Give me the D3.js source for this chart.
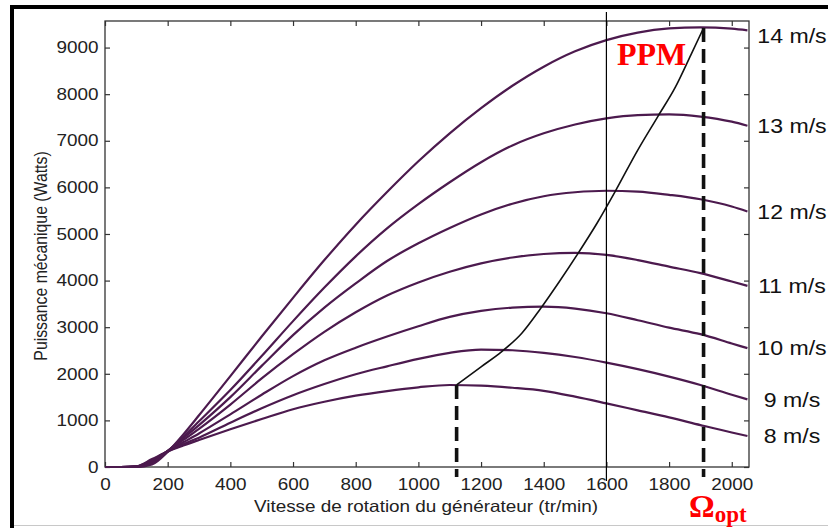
<!DOCTYPE html>
<html>
<head>
<meta charset="utf-8">
<script src="https://cdn.jsdelivr.net/npm/d3@7"></script>
<style>
body { margin: 0; background: #fff; }
svg { display: block; font-family: "Liberation Sans", Arial, sans-serif; }
</style>
</head>
<body>
<div class="chart"></div>
<script>
// vitesse de rotation (tr/min) for the sampled points of each curve
const rpm = [0, 50, 100, 150, 200, 250, 300, 400, 500, 600, 700, 800, 900, 1000,
    1100, 1200, 1300, 1400, 1500, 1600, 1700, 1800, 1900, 2000, 2050];

// puissance mécanique (W), one array per wind speed
const p8  = [0, 0, 15, 170, 330, 460, 580, 810, 1030, 1240, 1400, 1530, 1630, 1710, 1760, 1745, 1700, 1635, 1510, 1365, 1215, 1065, 900, 740, 665];
const p9  = [0, 0, 12, 150, 335, 490, 630, 950, 1260, 1540, 1780, 1990, 2160, 2320, 2450, 2520, 2505, 2450, 2360, 2240, 2100, 1940, 1760, 1550, 1450];
const p10 = [0, 0, 10, 130, 340, 530, 720, 1130, 1550, 1950, 2290, 2560, 2800, 3020, 3220, 3350, 3420, 3440, 3400, 3300, 3150, 2990, 2850, 2650, 2550];
const p11 = [0, 0, 8, 115, 345, 580, 820, 1340, 1900, 2420, 2900, 3320, 3680, 3960, 4190, 4370, 4495, 4570, 4595, 4550, 4440, 4300, 4160, 3980, 3887];
const p12 = [0, 0, 5, 100, 345, 620, 900, 1500, 2170, 2830, 3420, 3940, 4420, 4800, 5130, 5420, 5650, 5810, 5895, 5928, 5910, 5840, 5745, 5590, 5483];
const p13 = [0, 0, 3, 80, 335, 650, 980, 1650, 2380, 3130, 3850, 4520, 5120, 5640, 6110, 6540, 6900, 7160, 7350, 7480, 7550, 7565, 7520, 7410, 7323];
const p14 = [0, 0, 0, 55, 325, 700, 1110, 1950, 2800, 3630, 4440, 5200, 5900, 6560, 7160, 7700, 8180, 8590, 8920, 9160, 9320, 9410, 9435, 9405, 9370];

const speeds = ["8 m/s", "9 m/s", "10 m/s", "11 m/s", "12 m/s", "13 m/s", "14 m/s"];
const powers = [p8, p9, p10, p11, p12, p13, p14];

// PPM (maximum power point) curve
const ppmRpm   = [1122, 1200, 1265, 1330, 1390, 1450, 1510, 1570, 1627, 1700, 1764, 1820, 1870, 1910];
const ppmPower = [1761, 2150, 2470, 2870, 3400, 3980, 4590, 5230, 5900, 6800, 7520, 8150, 8850, 9420];

// dashed markers: [rpm, power]
const dashMarks = [[1122, 1761], [1910, 9420]];
const refRpm = 1600;

const xTicks = [0, 200, 400, 600, 800, 1000, 1200, 1400, 1600, 1800, 2000];
const yTicks = [0, 1000, 2000, 3000, 4000, 5000, 6000, 7000, 8000, 9000];

const margin = ({ top: 21, right: 79, bottom: 61, left: 105 });
const W = 828, H = 528;
const w = W - margin.left - margin.right;
const h = H - margin.top - margin.bottom;
const stretch = 1.16;

var svg = d3.select(".chart").append("svg")
    .attr("width", W)
    .attr("height", H);

// outer frame (cut on the right)
svg.append("line").attr("x1", 10).attr("x2", W).attr("y1", 7).attr("y2", 7)
    .attr("stroke", "#000").attr("stroke-width", 4);
svg.append("line").attr("x1", 12).attr("x2", 12).attr("y1", 5).attr("y2", H)
    .attr("stroke", "#000").attr("stroke-width", 4);
svg.append("line").attr("x1", 14).attr("x2", W).attr("y1", 525.5).attr("y2", 525.5)
    .attr("stroke", "#c8c8c8").attr("stroke-width", 1);

var x = d3.scaleLinear().domain([0, 2055]).range([0, w]);
var y = d3.scaleLinear().domain([0, 9570]).range([h, 0]);

var g = svg.append("g").attr("transform", `translate(${margin.left}, ${margin.top})`);

function styleAxis(sel) {
    sel.select(".domain").remove();
    sel.attr("font-family", null).attr("font-size", null);
    sel.selectAll(".tick line").attr("stroke", "#333").attr("stroke-width", 1.2);
    sel.selectAll("text")
        .attr("font-size", 16.3)
        .attr("fill", "#222")
        .attr("transform", `scale(${stretch},1)`);
}

g.append("g").attr("transform", `translate(0, ${h})`)
    .call(d3.axisBottom(x).tickValues(xTicks).tickFormat(d3.format("d"))
        .tickSizeInner(-5).tickSizeOuter(0).tickPadding(11))
    .call(styleAxis);
g.append("g")
    .call(d3.axisLeft(y).tickValues(yTicks).tickFormat(d3.format("d"))
        .tickSizeInner(-5).tickSizeOuter(0).tickPadding(5.5))
    .call(styleAxis);
g.append("g")
    .call(d3.axisTop(x).tickValues(xTicks).tickSizeInner(-5).tickSizeOuter(0).tickFormat(""))
    .call(styleAxis);
g.append("g").attr("transform", `translate(${w}, 0)`)
    .call(d3.axisRight(y).tickValues(yTicks).tickSizeInner(-5).tickSizeOuter(0).tickFormat(""))
    .call(styleAxis);

g.append("rect")
    .attr("width", w).attr("height", h)
    .attr("fill", "none").attr("stroke", "#333").attr("stroke-width", 1.3);

// power curves
var line = d3.line()
    .x((d, i) => x(rpm[i]))
    .y(d => y(d))
    .curve(d3.curveMonotoneX);

g.selectAll(".curve")
    .data(powers)
    .join("path")
    .attr("class", "curve")
    .attr("d", line)
    .attr("fill", "none")
    .attr("stroke", "#4c1a4e")
    .attr("stroke-width", 2.2);

// PPM curve
var ppmLine = d3.line()
    .x((d, i) => x(ppmRpm[i]))
    .y(d => y(d))
    .curve(d3.curveMonotoneX);

g.append("path")
    .attr("d", ppmLine(ppmPower))
    .attr("fill", "none")
    .attr("stroke", "#111")
    .attr("stroke-width", 1.6);

// reference vertical at 1600 tr/min
g.append("line")
    .attr("x1", x(refRpm)).attr("x2", x(refRpm))
    .attr("y1", -9).attr("y2", h + 14)
    .attr("stroke", "#000").attr("stroke-width", 1.2);

// dashed markers
g.selectAll(".dash")
    .data(dashMarks)
    .join("line")
    .attr("class", "dash")
    .attr("x1", d => x(d[0])).attr("x2", d => x(d[0]))
    .attr("y1", d => y(d[1])).attr("y2", h + 10)
    .attr("stroke", "#111")
    .attr("stroke-width", 3.6)
    .attr("stroke-dasharray", "14,7");

// wind speed labels
g.selectAll(".speed")
    .data(powers)
    .join("text")
    .attr("class", "speed")
    .attr("transform", d => `translate(${w + 43}, ${Math.max(y(d[d.length - 1]), 15)}) scale(1.1,1)`)
    .attr("text-anchor", "middle")
    .attr("dominant-baseline", "central")
    .attr("font-size", 21)
    .attr("fill", "#111")
    .text((d, i) => speeds[i]);

// axis titles
svg.append("text")
    .attr("transform", `translate(426, 512) scale(${stretch},1)`)
    .attr("text-anchor", "middle")
    .attr("font-size", 16.3)
    .attr("fill", "#222")
    .text("Vitesse de rotation du générateur (tr/min)");

svg.append("text")
    .attr("transform", `translate(41, 256) scale(${stretch},1) rotate(-90)`)
    .attr("text-anchor", "middle")
    .attr("dominant-baseline", "central")
    .attr("font-size", 15.8)
    .attr("fill", "#222")
    .text("Puissance mécanique (Watts)");

// annotations
svg.append("text")
    .attr("x", 617).attr("y", 65)
    .attr("font-family", "'Liberation Serif', 'Times New Roman', serif")
    .attr("font-weight", "bold")
    .attr("font-size", 32)
    .attr("fill", "#ff0000")
    .text("PPM");

var om = svg.append("text")
    .attr("x", 689).attr("y", 517)
    .attr("font-family", "'Liberation Serif', 'Times New Roman', serif")
    .attr("font-weight", "bold")
    .attr("font-size", 32)
    .attr("fill", "#ff0000")
    .text("Ω");
om.append("tspan").attr("font-size", 23).attr("dy", 5).text("opt");
</script>
</body>
</html>
